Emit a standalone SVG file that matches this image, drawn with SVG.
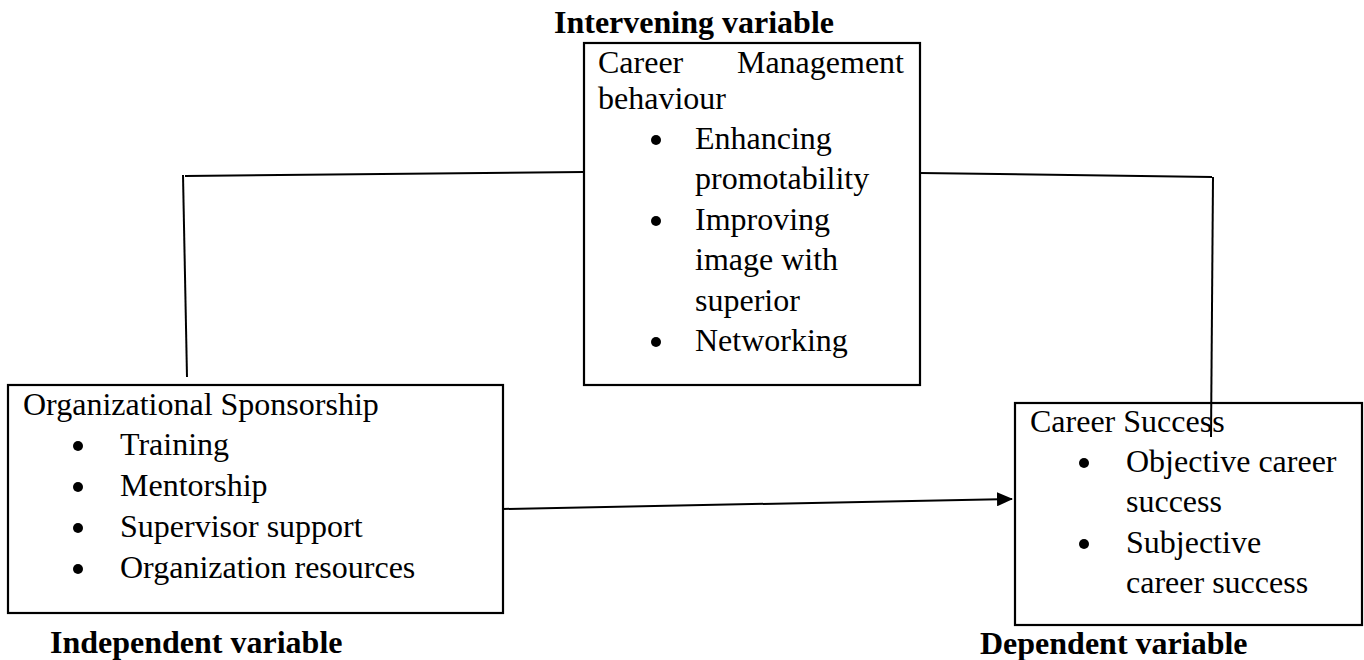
<svg xmlns="http://www.w3.org/2000/svg" width="1364" height="660" viewBox="0 0 1364 660">
<style>
text{font-family:"Liberation Serif","Times New Roman",serif;font-size:32px;fill:#000}
.b{font-weight:bold}
.box{fill:none;stroke:#000;stroke-width:2.2}
.ln{fill:none;stroke:#000;stroke-width:2}
.dot{fill:#000}
</style>
<defs>
<marker id="ah" markerWidth="8" markerHeight="7" refX="7.5" refY="3.5" orient="auto" markerUnits="strokeWidth">
<path d="M0,0 L8,3.5 L0,7 Z" fill="#000"/>
</marker>
</defs>
<rect width="1364" height="660" fill="#fff"/>
<g id="intervening">
<text class="b" x="694" y="33" text-anchor="middle">Intervening variable</text>
<rect class="box" x="584" y="43" width="336" height="342"/>
<text x="598" y="73">Career</text>
<text x="904" y="73" text-anchor="end">Management</text>
<text x="598" y="109">behaviour</text>
<circle class="dot" cx="656" cy="140" r="5"/>
<text x="695" y="149">Enhancing</text>
<text x="695" y="189">promotability</text>
<circle class="dot" cx="656" cy="221" r="5"/>
<text x="695" y="230">Improving</text>
<text x="695" y="270">image with</text>
<text x="695" y="311">superior</text>
<circle class="dot" cx="656" cy="342" r="5"/>
<text x="695" y="351">Networking</text>
</g>
<g id="independent">
<rect class="box" x="8" y="385" width="495" height="228"/>
<text x="23" y="415">Organizational Sponsorship</text>
<circle class="dot" cx="78" cy="446" r="5"/>
<text x="120" y="455">Training</text>
<circle class="dot" cx="78" cy="487" r="5"/>
<text x="120" y="496">Mentorship</text>
<circle class="dot" cx="78" cy="528" r="5"/>
<text x="120" y="537">Supervisor support</text>
<circle class="dot" cx="78" cy="569" r="5"/>
<text x="120" y="578">Organization resources</text>
<text class="b" x="50" y="653">Independent variable</text>
</g>
<g id="dependent">
<rect class="box" x="1015" y="403" width="347" height="222"/>
<text x="1030" y="432">Career Success</text>
<circle class="dot" cx="1084" cy="463" r="5"/>
<text x="1126" y="472">Objective career</text>
<text x="1126" y="512">success</text>
<circle class="dot" cx="1084" cy="544" r="5"/>
<text x="1126" y="553">Subjective</text>
<text x="1126" y="593">career success</text>
<text class="b" x="980" y="654">Dependent variable</text>
</g>
<g id="connectors">
<polyline class="ln" points="187,377 183,175"/>
<polyline class="ln" points="185,176 584,172"/>
<polyline class="ln" points="920,173 1212,177"/>
<polyline class="ln" stroke-width="1.6" points="1213,177 1211,437"/>
<line class="ln" x1="503" y1="509" x2="1012" y2="499" stroke-width="2.4" marker-end="url(#ah)"/>
</g>
</svg>
